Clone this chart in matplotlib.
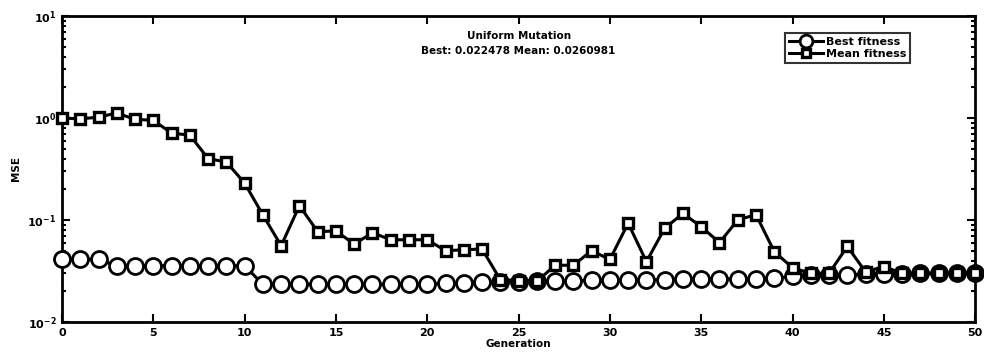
import matplotlib
matplotlib.use("Agg")
import matplotlib.pyplot as plt
from matplotlib.ticker import LogLocator, NullFormatter, FixedLocator

generations = list(range(51))
best_fitness = [0.041, 0.041, 0.041,
                0.0356, 0.0356, 0.0356, 0.0356, 0.0356, 0.0356, 0.0356, 0.0356,
                0.0234, 0.0234, 0.0234, 0.0234, 0.0234, 0.0234, 0.0234, 0.0234, 0.0234, 0.0234,
                0.0240, 0.0242, 0.0244, 0.0246, 0.0248, 0.0250,
                0.0252, 0.0254, 0.0256, 0.0258, 0.0260, 0.0260, 0.0260,
                0.0262, 0.0263, 0.0264, 0.0265, 0.0266, 0.0267,
                0.0280,
                0.0290, 0.0290, 0.0290, 0.0295, 0.0295, 0.0295, 0.0300, 0.0300, 0.0300, 0.0300]
mean_fitness = [1.0, 0.98, 1.02, 1.12, 0.97, 0.95, 0.71, 0.68, 0.40, 0.37, 0.23,
                0.112, 0.056, 0.138, 0.077, 0.078, 0.058, 0.075, 0.064, 0.064, 0.064,
                0.050, 0.051, 0.052, 0.026, 0.0255, 0.025, 0.036, 0.036, 0.050, 0.041,
                0.093, 0.039, 0.083, 0.116, 0.086, 0.060, 0.100, 0.113, 0.049, 0.034,
                0.030, 0.030, 0.055, 0.031, 0.035, 0.030, 0.030, 0.030, 0.030, 0.030]
x_ticks = [0, 5, 10, 15, 20, 25, 30, 35, 40, 45, 50]
title_lines = ["Uniform Mutation", "Best: 0.022478 Mean: 0.0260981"]

fig = plt.figure(figsize=(9.84, 3.54), dpi=100)
ax = fig.add_axes([0.063, 0.0904, 0.928, 0.8644])

ax.plot(generations, best_fitness, color="black", lw=2.2, marker="o",
        markersize=11.5, markerfacecolor="white", markeredgecolor="black",
        markeredgewidth=2.0, label="Best fitness", zorder=3, clip_on=False)
ax.plot(generations, mean_fitness, color="black", lw=2.2, marker="s",
        markersize=7, markerfacecolor="white", markeredgecolor="black",
        markeredgewidth=2.4, label="Mean fitness", zorder=4, clip_on=False)

ax.set_yscale("log")
ax.set_ylim(1e-2, 1e1)
ax.set_xlim(0, 50)
ax.xaxis.set_major_locator(FixedLocator(x_ticks))
ax.set_xticklabels([str(t) for t in x_ticks], fontsize=8, fontweight="bold")
ax.yaxis.set_major_locator(LogLocator(base=10))
ax.yaxis.set_minor_locator(LogLocator(base=10, subs=range(2, 10)))
ax.yaxis.set_minor_formatter(NullFormatter())
for lab in ax.get_yticklabels():
    lab.set_fontsize(8)
    lab.set_fontweight("bold")
ax.tick_params(which="both", direction="in", top=True, right=True, width=1.5)
ax.tick_params(which="major", length=6, pad=4)
ax.tick_params(which="minor", length=3)
for s in ax.spines.values():
    s.set_linewidth(2)

ax.set_xlabel("Generation", fontsize=7.5, fontweight="bold", labelpad=1)
ax.set_ylabel("MSE", fontsize=7.5, fontweight="bold", labelpad=5)

ax.text(0.5, 0.935, title_lines[0], transform=ax.transAxes, ha="center",
        va="center", fontsize=7.5, fontweight="bold")
ax.text(0.5, 0.885, title_lines[1], transform=ax.transAxes, ha="center",
        va="center", fontsize=7.5, fontweight="bold")

leg = ax.legend(loc="upper right", bbox_to_anchor=(0.935, 0.962),
                prop={"weight": "bold", "size": 8}, frameon=True, fancybox=False,
                edgecolor="black", handlelength=3.0, borderpad=0.35,
                labelspacing=0.2, handletextpad=0.3, markerscale=0.8)
leg.get_frame().set_linewidth(1.5)

fig.savefig("out.png", dpi=100)
